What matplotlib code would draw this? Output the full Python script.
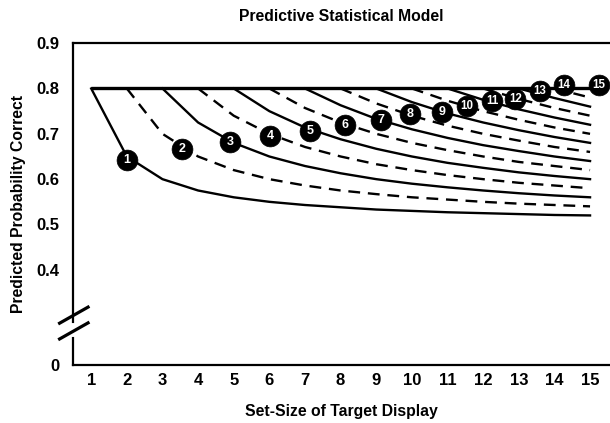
import matplotlib.pyplot as plt
import numpy as np

plt.rcParams['font.family'] = ['Liberation Sans', 'DejaVu Sans']
plt.rcParams['font.weight'] = 'bold'

# set sizes on the x axis
set_sizes = np.arange(1, 16)

# predicted probability for each model curve, starting at set-size == curve number
curve_values = [
    [0.8, 0.65, 0.6, 0.575, 0.56, 0.55, 0.543, 0.538, 0.533, 0.53, 0.527, 0.525, 0.523, 0.521, 0.52],
    [0.8, 0.7, 0.65, 0.62, 0.6, 0.586, 0.575, 0.567, 0.56, 0.555, 0.55, 0.546, 0.543, 0.54],
    [0.8, 0.725, 0.68, 0.65, 0.629, 0.613, 0.6, 0.59, 0.582, 0.575, 0.569, 0.564, 0.56],
    [0.8, 0.74, 0.7, 0.671, 0.65, 0.633, 0.62, 0.609, 0.6, 0.592, 0.586, 0.58],
    [0.8, 0.75, 0.714, 0.688, 0.667, 0.65, 0.636, 0.625, 0.615, 0.607, 0.6],
    [0.8, 0.757, 0.725, 0.7, 0.68, 0.664, 0.65, 0.638, 0.629, 0.62],
    [0.8, 0.763, 0.733, 0.71, 0.691, 0.675, 0.662, 0.65, 0.64],
    [0.8, 0.767, 0.74, 0.718, 0.7, 0.685, 0.671, 0.66],
    [0.8, 0.77, 0.745, 0.725, 0.708, 0.693, 0.68],
    [0.8, 0.773, 0.75, 0.731, 0.714, 0.7],
    [0.8, 0.775, 0.754, 0.736, 0.72],
    [0.8, 0.777, 0.757, 0.74],
    [0.8, 0.779, 0.76],
    [0.8, 0.78],
    [0.8],
]

# numbered markers on the curves
label_x = [2.0, 3.55, 4.9, 6.03, 7.15, 8.13, 9.12, 9.96, 10.85, 11.55, 12.25, 12.9, 13.6, 14.26, 15.24]
label_y = [0.642, 0.667, 0.683, 0.695, 0.706, 0.719, 0.73, 0.744, 0.749, 0.761, 0.772, 0.776, 0.795, 0.808, 0.808]

y_ticks = [0.19, 0.4, 0.5, 0.6, 0.7, 0.8, 0.9]
y_ticklabels = ['0', '0.4', '0.5', '0.6', '0.7', '0.8', '0.9']

fig = plt.figure(figsize=(6.1, 4.23), dpi=100)
ax = fig.add_axes([0.1197, 0.137, 0.8803, 0.761])

# common ceiling at 0.8
ax.plot([set_sizes[0], set_sizes[-1]], [0.8, 0.8], color='black', lw=2.4,
        solid_capstyle='butt', zorder=3)

for i, vals in enumerate(curve_values):
    xs = set_sizes[i:]
    if i % 2 == 0:
        ax.plot(xs, vals, color='black', lw=1.7, zorder=2)
    else:
        ax.plot(xs, vals, color='black', lw=1.7, dashes=(5, 3.3), zorder=2)

ax.plot(label_x, label_y, 'o', ms=15, color='black', mec='black', mew=0.5,
        zorder=4, clip_on=False)
for i, (x, y) in enumerate(zip(label_x, label_y)):
    ax.text(x, y, str(i + 1), color='white', fontsize=9 if i < 9 else 8.3,
            fontweight='bold', ha='center', va='center', zorder=5, clip_on=False)

ax.set_xlim(0.49, 15.56)
ax.set_ylim(0.19, 0.9)
ax.set_xticks(set_sizes)
ax.set_xticklabels([str(s) for s in set_sizes])
ax.set_yticks(y_ticks)
ax.set_yticklabels(y_ticklabels)
ax.tick_params(axis='both', length=0, labelsize=12)
ax.tick_params(axis='y', pad=10)
ax.tick_params(axis='x', pad=6)

for side in ['top', 'left', 'bottom']:
    ax.spines[side].set_linewidth(1.6)
ax.spines['right'].set_visible(False)

# axis break on the y axis
ax.plot([-0.005, 0.005], [0.1075, 0.1075], color='white', lw=10,
        transform=ax.transAxes, clip_on=False, zorder=6, solid_capstyle='butt')
ax.plot([-0.025, 0.028], [0.130, 0.180], color='black', lw=2.3,
        transform=ax.transAxes, clip_on=False, zorder=7)
ax.plot([-0.025, 0.028], [0.081, 0.131], color='black', lw=2.3,
        transform=ax.transAxes, clip_on=False, zorder=7)

ax.set_title('Predictive Statistical Model', fontsize=11.3, fontweight='bold', pad=16)
ax.set_xlabel('Set-Size of Target Display', fontsize=11.3, fontweight='bold', labelpad=11)
ax.set_ylabel('Predicted Probability Correct', fontsize=11.3, fontweight='bold', labelpad=7)

fig.savefig('out.png', dpi=100)
